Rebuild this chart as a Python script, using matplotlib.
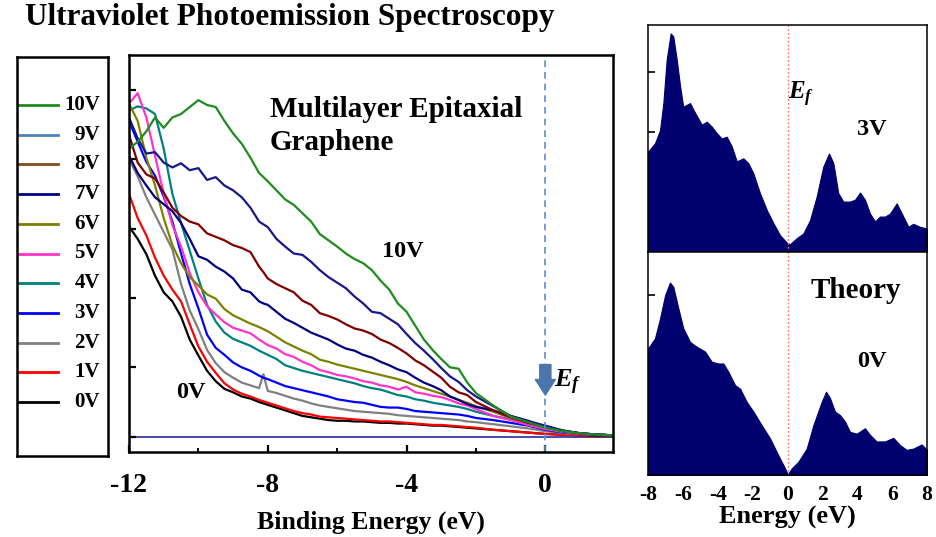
import numpy as np
import matplotlib
matplotlib.use("Agg")
import matplotlib.pyplot as plt
from matplotlib.patches import FancyArrowPatch

#--------------------------------------------------
# UPS spectra, intensity (arb. units) vs binding energy (eV)
energy = [-12.0, -11.75, -11.5, -11.25, -11.0, -10.75, -10.5, -10.25, -10.0, -9.75,
          -9.5, -9.25, -9.0, -8.75, -8.5, -8.25, -8.125, -8.0, -7.75, -7.5,
          -7.25, -7.0, -6.75, -6.5, -6.25, -6.0, -5.75, -5.5, -5.25, -5.0,
          -4.75, -4.5, -4.25, -4.0, -3.75, -3.5, -3.25, -3.0, -2.75, -2.5,
          -2.25, -2.0, -1.5, -1.0, -0.5, 0.0, 0.5, 1.0, 1.5, 1.95]

int_10V = [4.15, 4.25, 4.40, 4.60, 4.45, 4.60, 4.65, 4.75, 4.85, 4.78,
           4.75, 4.55, 4.37, 4.22, 4.02, 3.80, 3.74, 3.68, 3.55, 3.42,
           3.34, 3.22, 3.10, 2.92, 2.83, 2.74, 2.64, 2.56, 2.50, 2.40,
           2.25, 2.12, 1.92, 1.80, 1.60, 1.40, 1.25, 1.12, 1.00, 0.98,
           0.78, 0.63, 0.45, 0.29, 0.21, 0.13, 0.08, 0.05, 0.03, 0.02]
int_9V = [4.60, 4.30, 4.08, 4.10, 3.95, 3.88, 3.94, 3.84, 3.87, 3.70,
          3.74, 3.62, 3.55, 3.45, 3.30, 3.10, 3.06, 3.02, 2.85, 2.74,
          2.64, 2.62, 2.52, 2.40, 2.30, 2.22, 2.14, 2.02, 1.92, 1.80,
          1.78, 1.70, 1.62, 1.48, 1.35, 1.24, 1.12, 0.99, 0.87, 0.79,
          0.67, 0.58, 0.44, 0.30, 0.22, 0.16, 0.09, 0.05, 0.03, 0.02]
int_8V = [4.35, 3.95, 3.78, 3.72, 3.52, 3.30, 3.18, 3.10, 3.06, 2.93,
          2.88, 2.83, 2.76, 2.72, 2.66, 2.45, 2.37, 2.28, 2.20, 2.14,
          2.08, 1.96, 1.90, 1.78, 1.74, 1.69, 1.62, 1.56, 1.53, 1.48,
          1.40, 1.35, 1.28, 1.20, 1.10, 1.03, 0.94, 0.85, 0.72, 0.64,
          0.60, 0.50, 0.38, 0.28, 0.20, 0.14, 0.08, 0.05, 0.03, 0.02]
int_7V = [4.05, 3.80, 3.62, 3.45, 3.35, 3.25, 3.08, 2.85, 2.60, 2.55,
          2.45, 2.38, 2.28, 2.12, 2.08, 1.95, 1.92, 1.90, 1.80, 1.70,
          1.64, 1.57, 1.50, 1.45, 1.40, 1.33, 1.27, 1.24, 1.18, 1.14,
          1.08, 1.03, 0.97, 0.93, 0.85, 0.78, 0.73, 0.67, 0.58, 0.53,
          0.47, 0.43, 0.38, 0.30, 0.23, 0.15, 0.09, 0.05, 0.03, 0.02]
int_6V = [4.80, 4.55, 4.02, 3.62, 3.15, 2.76, 2.50, 2.30, 2.18, 2.05,
          1.99, 1.84, 1.75, 1.69, 1.63, 1.58, 1.55, 1.52, 1.44, 1.36,
          1.30, 1.24, 1.19, 1.11, 1.08, 1.04, 1.01, 0.98, 0.95, 0.92,
          0.89, 0.86, 0.83, 0.79, 0.74, 0.70, 0.66, 0.62, 0.58, 0.53,
          0.49, 0.44, 0.36, 0.27, 0.20, 0.13, 0.08, 0.05, 0.03, 0.02]
int_5V = [4.80, 4.95, 4.60, 4.05, 3.50, 3.05, 2.74, 2.36, 2.08, 1.88,
          1.76, 1.65, 1.57, 1.53, 1.49, 1.40, 1.36, 1.32, 1.27, 1.19,
          1.15, 1.08, 1.03, 0.96, 0.93, 0.89, 0.87, 0.84, 0.80, 0.78,
          0.74, 0.72, 0.68, 0.72, 0.64, 0.62, 0.59, 0.57, 0.53, 0.48,
          0.45, 0.40, 0.30, 0.24, 0.17, 0.11, 0.07, 0.04, 0.03, 0.02]
int_4V = [4.70, 4.76, 4.73, 4.65, 4.15, 3.50, 3.08, 2.68, 2.28, 1.90,
          1.66, 1.50, 1.41, 1.36, 1.31, 1.24, 1.21, 1.18, 1.12, 1.03,
          0.99, 0.95, 0.92, 0.89, 0.86, 0.83, 0.80, 0.77, 0.73, 0.70,
          0.68, 0.64, 0.60, 0.58, 0.54, 0.52, 0.49, 0.47, 0.45, 0.43,
          0.40, 0.36, 0.30, 0.25, 0.18, 0.12, 0.07, 0.04, 0.03, 0.02]
int_3V = [4.55, 4.25, 3.96, 3.76, 3.46, 3.10, 2.64, 2.20, 1.85, 1.47,
          1.28, 1.18, 1.07, 1.00, 0.95, 0.88, 0.85, 0.83, 0.78, 0.73,
          0.70, 0.67, 0.64, 0.61, 0.58, 0.54, 0.52, 0.50, 0.49, 0.46,
          0.43, 0.42, 0.42, 0.40, 0.37, 0.36, 0.35, 0.34, 0.33, 0.32,
          0.30, 0.27, 0.24, 0.20, 0.16, 0.10, 0.06, 0.04, 0.03, 0.02]
int_2V = [4.00, 3.75, 3.45, 3.20, 2.95, 2.70, 2.20, 1.82, 1.55, 1.25,
          1.06, 0.93, 0.85, 0.78, 0.74, 0.70, 0.90, 0.66, 0.63, 0.59,
          0.55, 0.52, 0.48, 0.45, 0.43, 0.41, 0.39, 0.37, 0.36, 0.35,
          0.34, 0.33, 0.31, 0.30, 0.29, 0.28, 0.27, 0.26, 0.25, 0.24,
          0.22, 0.21, 0.18, 0.15, 0.12, 0.08, 0.05, 0.04, 0.03, 0.02]
int_1V = [3.50, 3.15, 2.90, 2.58, 2.32, 2.12, 1.95, 1.62, 1.30, 1.08,
          0.92, 0.77, 0.68, 0.62, 0.58, 0.53, 0.51, 0.49, 0.45, 0.41,
          0.37, 0.34, 0.32, 0.29, 0.28, 0.27, 0.26, 0.25, 0.24, 0.23,
          0.22, 0.22, 0.21, 0.20, 0.19, 0.18, 0.17, 0.17, 0.16, 0.15,
          0.14, 0.13, 0.10, 0.08, 0.06, 0.04, 0.03, 0.02, 0.02, 0.01]
int_0V = [3.03, 2.85, 2.63, 2.32, 2.08, 1.95, 1.73, 1.40, 1.17, 0.95,
          0.80, 0.69, 0.64, 0.58, 0.55, 0.50, 0.48, 0.46, 0.42, 0.38,
          0.34, 0.30, 0.28, 0.26, 0.24, 0.23, 0.23, 0.22, 0.22, 0.21,
          0.20, 0.20, 0.19, 0.19, 0.18, 0.17, 0.16, 0.16, 0.15, 0.14,
          0.13, 0.12, 0.10, 0.08, 0.06, 0.04, 0.03, 0.02, 0.01, 0.01]

bias_labels = ['10V', '9V', '8V', '7V', '6V', '5V', '4V', '3V', '2V', '1V', '0V']
line_colors = ['#1e8c1e', '#17188a', '#800000', '#000080', '#808000', '#ff33cc',
               '#008080', '#0000ff', '#808080', '#ff0000', '#000000']
legend_colors = ['#1e8c1e', '#4f81bd', '#7f4c1e', '#000080', '#808000', '#ff33cc',
                 '#008080', '#0000ff', '#808080', '#ff0000', '#000000']

# theoretical DOS, energy (eV)
dos_E_3V = [-8.0, -7.6, -7.31, -7.12, -6.93, -6.70, -6.55, -6.35, -6.16, -5.98,
            -5.59, -5.40, -4.92, -4.63, -4.35, -4.06, -3.77, -3.49, -3.20, -2.91,
            -2.53, -2.25, -1.96, -1.58, -1.19, -0.81, -0.43, -0.05, 0.14, 0.53,
            0.91, 1.29, 1.67, 2.05, 2.38, 2.63, 2.91, 3.20, 3.58, 3.87,
            4.16, 4.44, 4.73, 5.02, 5.30, 5.59, 5.88, 6.26, 6.64, 6.93,
            7.21, 7.60, 8.0]
dos_3V = [1.67, 1.81, 2.03, 2.48, 3.20, 3.64, 3.59, 3.20, 2.76, 2.42,
          2.48, 2.37, 2.12, 2.17, 2.09, 1.98, 1.89, 1.92, 1.76, 1.51,
          1.56, 1.48, 1.31, 0.98, 0.70, 0.48, 0.28, 0.16, 0.13, 0.23,
          0.31, 0.53, 0.92, 1.42, 1.64, 1.48, 0.98, 0.84, 0.84, 0.87,
          0.99, 0.87, 0.64, 0.51, 0.59, 0.59, 0.64, 0.81, 0.59, 0.42,
          0.47, 0.42, 0.39]

dos_E_0V = [-8.0, -7.6, -7.31, -7.02, -6.74, -6.55, -6.26, -5.98, -5.59, -5.21,
            -4.73, -4.35, -3.97, -3.68, -3.39, -3.01, -2.72, -2.34, -1.96, -1.48,
            -1.00, -0.53, -0.14, 0.01, 0.24, 0.62, 1.10, 1.48, 1.96, 2.21,
            2.44, 2.72, 3.01, 3.30, 3.58, 3.97, 4.44, 4.73, 5.11, 5.59,
            6.07, 6.45, 6.83, 7.21, 7.69, 8.0]
dos_0V = [2.11, 2.28, 2.61, 3.00, 3.21, 3.14, 2.78, 2.45, 2.22, 2.14,
          2.06, 1.89, 1.86, 1.86, 1.72, 1.50, 1.44, 1.22, 1.06, 0.83,
          0.61, 0.33, 0.11, 0.01, 0.11, 0.22, 0.44, 0.83, 1.22, 1.39,
          1.28, 1.06, 1.00, 0.89, 0.72, 0.69, 0.78, 0.67, 0.56, 0.56,
          0.62, 0.50, 0.42, 0.44, 0.51, 0.42]


#--------------------------------------------------
if __name__ == "__main__":

    plt.rc('font', family='Liberation Serif', weight='bold')
    plt.rc('mathtext', fontset='custom', it='Liberation Serif:italic:bold',
           rm='Liberation Serif:bold')
    plt.rc('axes', linewidth=1.8, labelweight='bold', unicode_minus=False)

    W, H = 936.0, 537.0
    fig = plt.figure(1, figsize=(W/100, H/100), dpi=100)

    def box(x0, y0, x1, y1):
        # pixel box (top-left origin) -> figure fraction
        return [x0/W, 1 - y1/H, (x1 - x0)/W, (y1 - y0)/H]

    ax_leg = fig.add_axes(box(17, 57, 108, 456))
    ax = fig.add_axes(box(129, 55, 613, 452))
    ax_top = fig.add_axes(box(648, 25, 927, 252))
    ax_bot = fig.add_axes(box(648, 252, 927, 475))

    fig.text(290/W, 1 - 18/H, 'Ultraviolet Photoemission Spectroscopy',
             ha='center', va='center', fontsize=22.5)

    #--------------------------------------------------
    # legend box
    ax_leg.set_xlim(17, 108)
    ax_leg.set_ylim(456, 57)
    ax_leg.set_xticks([])
    ax_leg.set_yticks([])
    for i, (lab, col) in enumerate(zip(bias_labels, legend_colors)):
        yy = 105 + 29.7*i
        ax_leg.plot([19, 58], [yy, yy], color=col, lw=2.0)
        ax_leg.text(100, yy, lab, ha='right', va='center', fontsize=15)

    #--------------------------------------------------
    # UPS spectra
    series = [int_10V, int_9V, int_8V, int_7V, int_6V, int_5V,
              int_4V, int_3V, int_2V, int_1V, int_0V]
    for ys, col in zip(series[::-1], line_colors[::-1]):
        ax.plot(energy, ys, color=col, lw=1.6)

    ax.axhline(0, color='#3a3aa8', lw=1.3, zorder=1)
    ax.axvline(0, color='#5b8fd0', lw=1.2, ls=(0, (4, 3)))

    arr = FancyArrowPatch((0, 1.08), (0, 0.56),
                          arrowstyle='simple,head_width=0.9,head_length=0.7,tail_width=0.5',
                          mutation_scale=16, color='#4a76ad', zorder=5)
    ax.add_patch(arr)
    ax.text(0.26, 0.78, r'$E_f$', fontsize=19, ha='left', va='center')

    ax.text(-7.94, 4.60, 'Multilayer Epitaxial', fontsize=21, va='baseline')
    ax.text(-7.94, 4.13, 'Graphene', fontsize=21, va='baseline')
    ax.text(-4.72, 2.59, '10V', fontsize=17.5, va='baseline')
    ax.text(-10.65, 0.56, '0V', fontsize=17.5, va='baseline')

    ax.set_xlim(-12, 1.95)
    ax.set_ylim(-0.22, 5.50)
    ax.set_xticks([-12, -8, -4, 0])
    ax.set_xticks([-10, -6, -2], minor=True)
    ax.set_yticks([0, 1, 2, 3, 4, 5])
    ax.set_yticklabels([])
    ax.tick_params(axis='both', which='major', direction='in', length=5, width=1.6,
                   labelsize=20, pad=15)
    ax.tick_params(axis='x', which='minor', direction='in', length=3, width=1.4)
    ax.set_xlabel('Binding Energy (eV)', fontsize=18.5, labelpad=9)

    #--------------------------------------------------
    # theory DOS
    for a, xs, ys, yl in [(ax_top, dos_E_3V, dos_3V, 3.78),
                          (ax_bot, dos_E_0V, dos_0V, 3.72)]:
        a.fill_between(xs, 0, ys, color='#00006e', lw=0.8, edgecolor='#00006e')
        a.axvline(0, color='#ff6b6b', lw=1.0, ls=(0, (1.2, 1.6)))
        a.set_xlim(-8, 8)
        a.set_ylim(0, yl)
        for sp in a.spines.values():
            sp.set_linewidth(1.1)
        a.tick_params(axis='y', direction='in', length=5, width=1.2, labelleft=False)
        a.tick_params(axis='x', length=0, labelsize=15.5, pad=7)

    ax_top.set_yticks([2, 3])
    ax_bot.set_yticks([3])
    ax_top.set_xticks([])
    ax_bot.set_xticks([-8, -6, -4, -2, 0, 2, 4, 6, 8])
    ax_bot.set_xlabel('Energy (eV)', fontsize=19, labelpad=1)

    ax_top.text(0.03, 2.62, r'$E_f$', fontsize=18, ha='left', va='center')
    ax_top.text(4.0, 1.95, '3V', fontsize=17.5, ha='left', va='baseline')
    ax_bot.text(1.3, 2.95, 'Theory', fontsize=21, ha='left', va='baseline')
    ax_bot.text(4.0, 1.80, '0V', fontsize=17.5, ha='left', va='baseline')

    plt.savefig('out.png', dpi=100)
